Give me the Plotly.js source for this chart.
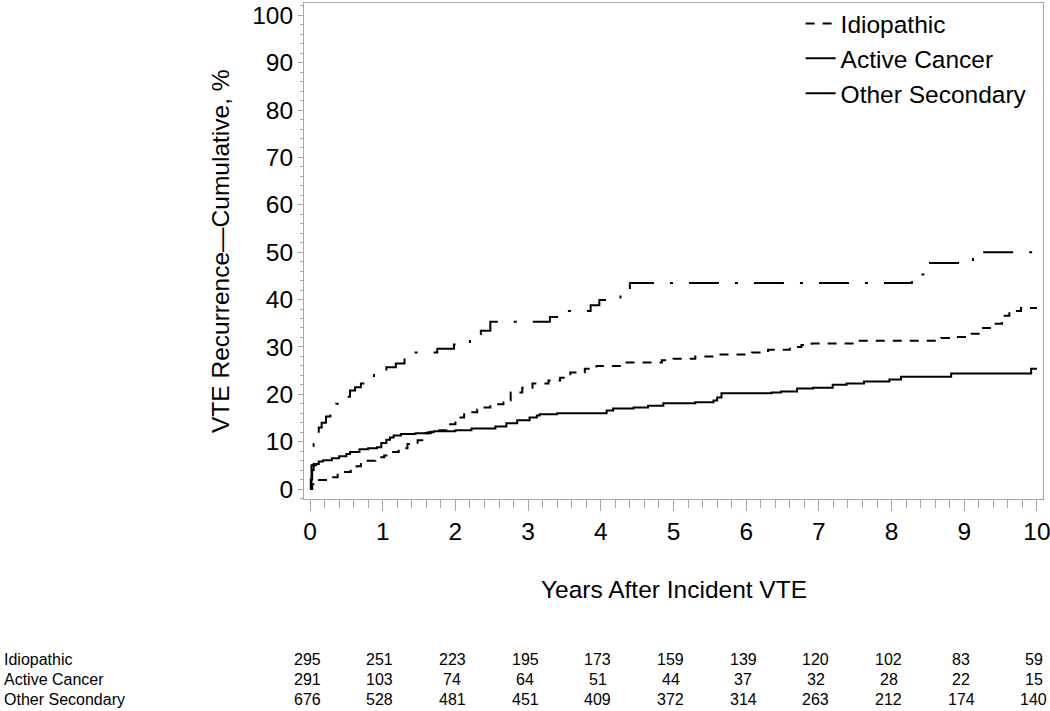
<!DOCTYPE html>
<html>
<head>
<meta charset="utf-8">
<script src="https://cdn.plot.ly/plotly-3.0.1.min.js"></script>
<style>html,body{margin:0;padding:0;background:#fff;}#chart{width:1050px;height:711px;}</style>
</head>
<body>
<div id="chart"></div>
<script>
// ---- Data ----
const seriesNames = ["Idiopathic", "Active Cancer", "Other Secondary"];

const idioYears = [0, 0.03, 0.07, 0.25, 0.38, 0.56, 0.64, 0.70, 0.90, 1.02, 1.12, 1.22, 1.34, 1.48, 1.58, 1.66, 1.88, 2.00, 2.12, 2.30, 2.40, 2.48, 2.66, 2.76, 2.92, 3.06, 3.28, 3.44, 3.58, 3.78, 3.94, 4.30, 4.84, 5.00, 5.30, 5.60, 6.08, 6.30, 6.60, 6.76, 6.90, 7.52, 8.68, 8.88, 9.06, 9.22, 9.38, 9.52, 9.62, 9.78, 10];
const idioPct   = [0, 1.0, 1.9, 2.5, 3.6, 4.4, 4.8, 6.0, 6.7, 7.1, 7.8, 8.6, 9.5, 10.3, 11.8, 12.4, 13.7, 15.1, 16.2, 16.8, 17.2, 17.9, 18.7, 20.4, 21.4, 22.3, 22.9, 23.5, 24.6, 25.4, 26.0, 26.7, 27.2, 27.5, 28.0, 28.4, 28.8, 29.4, 30.0, 30.4, 30.7, 31.3, 31.9, 32.1, 32.8, 34.0, 34.9, 36.6, 37.6, 38.2, 38.2];

const cancerYears = [0, 0.02, 0.05, 0.08, 0.12, 0.16, 0.22, 0.28, 0.36, 0.42, 0.48, 0.55, 0.62, 0.70, 0.80, 0.88, 0.96, 1.05, 1.18, 1.30, 1.75, 1.98, 2.20, 2.35, 2.48, 3.30, 3.45, 3.86, 3.98, 4.27, 4.40, 8.28, 8.50, 9.12, 10];
const cancerPct   = [0, 5.0, 9.5, 11.5, 13.0, 14.0, 15.3, 17.2, 18.0, 18.7, 19.5, 20.8, 21.5, 22.3, 23.5, 24.3, 25.0, 25.7, 26.5, 28.8, 29.6, 30.5, 31.5, 33.4, 35.3, 36.3, 37.6, 38.8, 39.9, 41.2, 43.5, 45.3, 47.7, 50.0, 50.0];

const otherYears = [0, 0.01, 0.03, 0.05, 0.08, 0.12, 0.18, 0.30, 0.40, 0.50, 0.55, 0.68, 0.80, 0.92, 0.98, 1.05, 1.10, 1.15, 1.25, 1.45, 1.62, 1.70, 2.00, 2.22, 2.55, 2.70, 2.85, 3.02, 3.12, 3.16, 3.40, 4.08, 4.17, 4.45, 4.65, 4.86, 5.30, 5.55, 5.60, 5.66, 6.35, 6.48, 6.70, 6.92, 7.19, 7.38, 7.62, 7.97, 8.13, 8.82, 9.92, 10];
const otherPct   = [0, 2.0, 4.0, 5.0, 5.3, 5.8, 6.1, 6.5, 6.9, 7.4, 7.8, 8.4, 8.6, 8.8, 9.7, 10.4, 10.9, 11.3, 11.6, 11.8, 12.0, 12.2, 12.4, 12.8, 13.2, 13.9, 14.5, 15.1, 15.5, 15.8, 16.0, 16.6, 17.0, 17.2, 17.6, 18.1, 18.3, 18.7, 19.3, 20.2, 20.4, 20.6, 21.2, 21.4, 22.0, 22.3, 22.7, 23.1, 23.7, 24.4, 25.4, 25.4];

// Number at risk table
const riskYears  = [0, 1, 2, 3, 4, 5, 6, 7, 8, 9, 10];
const riskIdio   = [295, 251, 223, 195, 173, 159, 139, 120, 102, 83, 59];
const riskCancer = [291, 103, 74, 64, 51, 44, 37, 32, 28, 22, 15];
const riskOther  = [676, 528, 481, 451, 409, 372, 314, 263, 212, 174, 140];

// ---- Chart ----
const FONT = "Liberation Sans, Arial, Helvetica, sans-serif";
const frame = "#a6a6a6";

const traces = [
  {x: idioYears, y: idioPct, name: seriesNames[0], mode: "lines",
   line: {shape: "hv", color: "#000", width: 2, dash: "9px,8px"}},
  {x: cancerYears, y: cancerPct, name: seriesNames[1], mode: "lines",
   line: {shape: "hv", color: "#000", width: 2, dash: "30px,16px,3px,16px"}},
  {x: otherYears, y: otherPct, name: seriesNames[2], mode: "lines",
   line: {shape: "hv", color: "#000", width: 2}}
];

const annotations = [];
const rows = [[seriesNames[0], riskIdio], [seriesNames[1], riskCancer], [seriesNames[2], riskOther]];
const rowY = [-0.3233, -0.3635, -0.4036];
rows.forEach((r, i) => {
  annotations.push({xref: "paper", yref: "paper", x: -0.4087, y: rowY[i], xanchor: "left", yanchor: "middle",
    text: r[0], showarrow: false, font: {family: FONT, size: 16, color: "#000"}});
  r[1].forEach((n, j) => {
    annotations.push({xref: "x", yref: "paper", x: riskYears[j], y: rowY[i], xanchor: "center", yanchor: "middle",
      xshift: -3, text: String(n), showarrow: false, font: {family: FONT, size: 16, color: "#000"}});
  });
});
annotations.push({xref: "paper", yref: "paper", x: 0.5, y: -0.1827, xanchor: "center", yanchor: "middle",
  text: "Years After Incident VTE", showarrow: false, font: {family: FONT, size: 24.5, color: "#000"}});
annotations.push({xref: "paper", yref: "paper", x: -0.1137, y: 0.5, xanchor: "center", yanchor: "middle",
  textangle: -90, text: "VTE Recurrence\u2014Cumulative, %", showarrow: false,
  font: {family: FONT, size: 24.5, color: "#000"}});

const layout = {
  width: 1050, height: 711,
  margin: {l: 304, r: 7, t: 1, b: 212},
  paper_bgcolor: "#fff", plot_bgcolor: "#fff",
  font: {family: FONT, color: "#000"},
  showlegend: true,
  legend: {x: 0.672, y: 1.004, xanchor: "left", yanchor: "top", bgcolor: "rgba(0,0,0,0)",
    borderwidth: 0, font: {family: FONT, size: 24.5, color: "#000"}, tracegroupgap: 0},
  xaxis: {range: [-0.083, 10.083], tickmode: "array", tickvals: riskYears, ticktext: riskYears.map(String),
    ticks: "outside", ticklen: 11, tickwidth: 1, tickcolor: frame, ticklabeloverflow: "allow",
    minor: {dtick: 0.2, ticks: "outside", ticklen: 8, tickcolor: frame, tickwidth: 1},
    showgrid: false, zeroline: false, showline: true, linecolor: frame, linewidth: 1, mirror: true,
    tickfont: {family: FONT, size: 24.5, color: "#000"}, fixedrange: true},
  yaxis: {range: [-2.1, 102.6], tickmode: "linear", tick0: 0, dtick: 10,
    ticks: "outside", ticklen: 5, tickwidth: 1, tickcolor: frame, ticklabeloverflow: "allow",
    minor: {dtick: 2, ticks: "outside", ticklen: 3, tickcolor: frame, tickwidth: 1},
    showgrid: false, zeroline: false, showline: true, linecolor: frame, linewidth: 1, mirror: true,
    tickfont: {family: FONT, size: 24.5, color: "#000"}, fixedrange: true},
  annotations: annotations
};

Plotly.newPlot("chart", traces, layout, {displayModeBar: false, staticPlot: true});
</script>
</body>
</html>
